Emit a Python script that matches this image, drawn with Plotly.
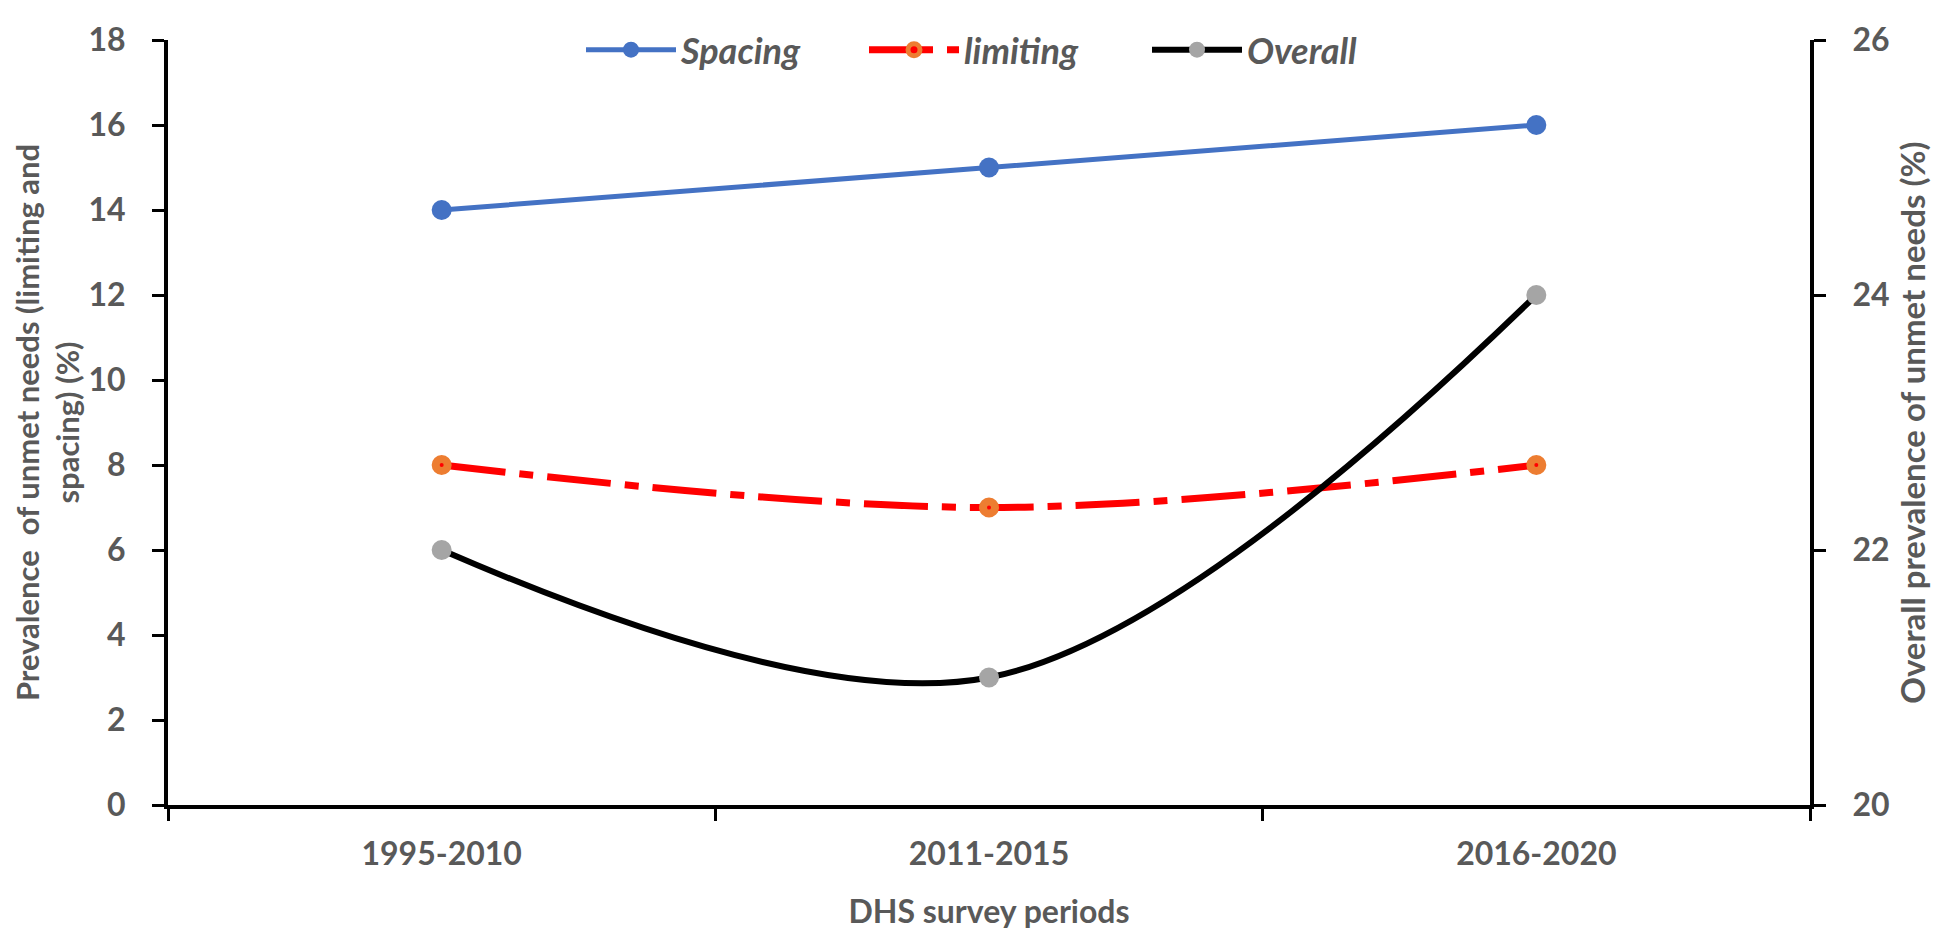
import plotly.graph_objects as go

periods = ["1995-2010", "2011-2015", "2016-2020"]
spacing = [14, 15, 16]
limiting = [8, 7, 8]
overall = [22, 21, 24]

GRAY = "#595959"
FONT = "Lato"

fig = go.Figure()
fig.add_trace(go.Scatter(
    x=periods, y=spacing, name="<b><i>Spacing</i></b>", mode="lines+markers",
    line=dict(color="#4472C4", width=5, shape="spline"),
    marker=dict(color="#4472C4", size=20),
))
fig.add_trace(go.Scatter(
    x=periods, y=limiting, name="<b><i>limiting</i></b>", mode="lines+markers",
    line=dict(color="#FF0000", width=7, shape="spline", dash="64px,14px,14px,14px"),
    marker=dict(color="#FF0000", size=12, line=dict(color="#ED7D31", width=8)),
))
fig.add_trace(go.Scatter(
    x=periods, y=overall, name="<b><i>Overall</i></b>", mode="lines+markers",
    line=dict(color="#000000", width=6, shape="spline", smoothing=1),
    marker=dict(color="#A5A5A5", size=20),
    yaxis="y2",
))

fig.update_layout(
    width=1944, height=931,
    margin=dict(l=160, r=142, t=15, b=134),
    plot_bgcolor="white", paper_bgcolor="white",
    font=dict(family=FONT, color=GRAY, size=30),
    showlegend=True,
    legend=dict(
        orientation="h", x=(573 - 160) / 1642, xanchor="left",
        y=1 - (25 - 15) / 782, yanchor="middle",
        font=dict(family=FONT, size=36, color=GRAY),
        itemwidth=90, entrywidth=178, bgcolor="rgba(0,0,0,0)",
    ),
    xaxis=dict(
        type="category", range=[-0.5, 2.5], tickson="boundaries",
        showline=True, linecolor="black", linewidth=4,
        ticks="outside", ticklen=12, tickwidth=3, tickcolor="black",
        showgrid=False, zeroline=False, automargin=False,
        tickfont=dict(family=FONT, size=32, color=GRAY, weight="bold"),
        ticklabelstandoff=18,
        title=dict(text="<b>DHS survey periods</b>", font=dict(family=FONT, size=32, color=GRAY), standoff=30),
    ),
    yaxis=dict(
        range=[0, 18], dtick=2, showline=True, linecolor="black", linewidth=4,
        ticks="outside", ticklen=12, tickwidth=3, tickcolor="black",
        showgrid=False, zeroline=False, automargin=False,
        tickfont=dict(family=FONT, size=32, color=GRAY, weight="bold"),
        ticklabelstandoff=20,
        title=dict(text="<b>Prevalence  of unmet needs (limiting and<br>spacing) (%)</b>",
                   font=dict(family=FONT, size=31, color=GRAY), standoff=12),
    ),
    yaxis2=dict(
        range=[20, 26], dtick=2, overlaying="y", side="right",
        showline=True, linecolor="black", linewidth=4,
        ticks="outside", ticklen=12, tickwidth=3, tickcolor="black",
        showgrid=False, zeroline=False, automargin=False,
        tickfont=dict(family=FONT, size=32, color=GRAY, weight="bold"),
        ticklabelstandoff=20,
        title=dict(text="<b>Overall prevalence of unmet needs (%)</b>",
                   font=dict(family=FONT, size=33, color=GRAY), standoff=14),
    ),
)

fig.write_html("out.html")
